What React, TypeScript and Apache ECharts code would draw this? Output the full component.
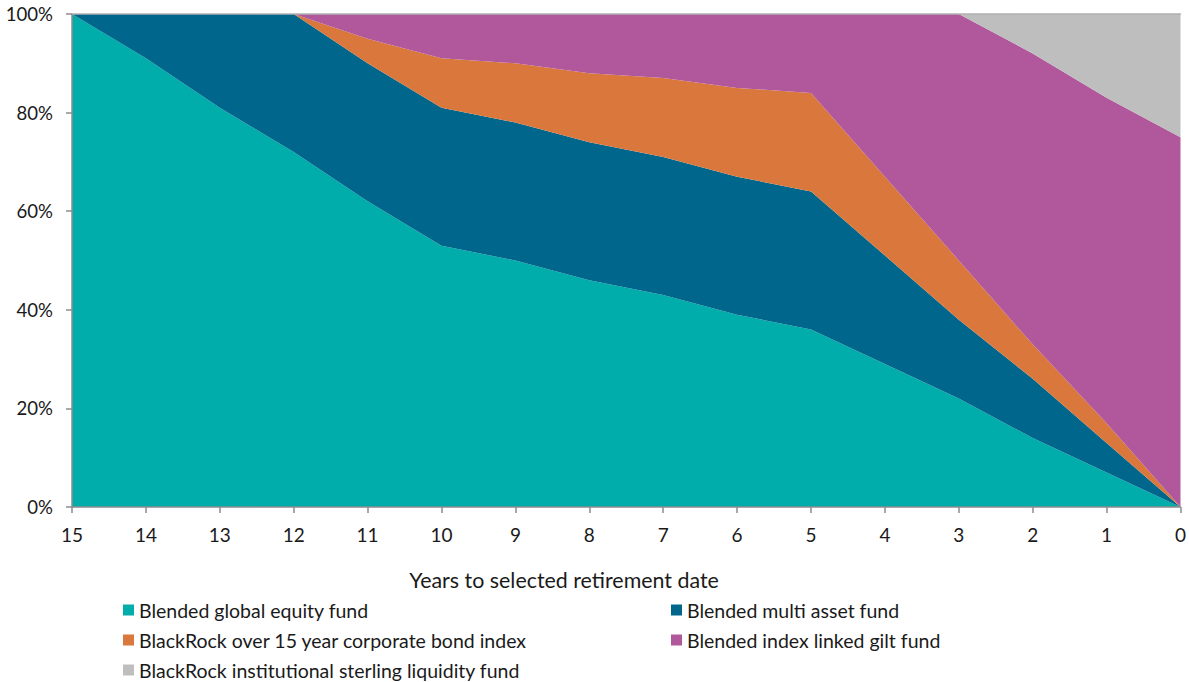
import React, { useEffect, useRef } from "react";
import * as echarts from "echarts";

// Years remaining until the selected retirement date
const years = ["15", "14", "13", "12", "11", "10", "9", "8", "7", "6", "5", "4", "3", "2", "1", "0"];

// Allocation (% of pot) per fund, for each year above
const globalEquity = [100, 91, 81, 72, 62, 53, 50, 46, 43, 39, 36, 29, 22, 14, 7, 0];
const multiAsset = [0, 9, 19, 28, 28, 28, 28, 28, 28, 28, 28, 22, 16, 12, 6, 0];
const corporateBond = [0, 0, 0, 0, 5, 10, 12, 14, 16, 18, 20, 16, 12, 7, 4, 0];
const indexLinkedGilt = [0, 0, 0, 0, 5, 9, 10, 12, 13, 15, 16, 33, 50, 59, 66, 75];
const sterlingLiquidity = [0, 0, 0, 0, 0, 0, 0, 0, 0, 0, 0, 0, 0, 8, 17, 25];

const yTicks = [0, 20, 40, 60, 80, 100];

const axisTitle = "Years to selected retirement date";

const seriesDefs = [
  { name: "Blended global equity fund", data: globalEquity, color: "#00ADAA" },
  { name: "Blended multi asset fund", data: multiAsset, color: "#00668C" },
  { name: "BlackRock over 15 year corporate bond index", data: corporateBond, color: "#D9773D" },
  { name: "Blended index linked gilt fund", data: indexLinkedGilt, color: "#B0589B" },
  { name: "BlackRock institutional sterling liquidity fund", data: sterlingLiquidity, color: "#BEBEBE" },
];

const FONT = "Lato";
const TEXT = "#1a1a1a";
const AXIS = "#8c8c8c";

export default function App() {
  const ref = useRef<HTMLDivElement>(null);

  useEffect(() => {
    document.body.style.margin = "0";
    if (!ref.current) return;
    const chart = echarts.init(ref.current, null, { renderer: "svg" });

    const legendBase = {
      orient: "vertical",
      top: 600,
      padding: 0,
      itemGap: 10,
      itemWidth: 11,
      itemHeight: 11,
      icon: "rect",
      textStyle: { color: TEXT, fontSize: 19.5, lineHeight: 20, fontFamily: FONT },
      selectedMode: false,
    };

    chart.setOption({
      animation: false,
      backgroundColor: "#ffffff",
      textStyle: { fontFamily: FONT },
      grid: { left: 72, right: 6, top: 14, bottom: 175, containLabel: false },
      legend: [
        { ...legendBase, data: [seriesDefs[0].name, seriesDefs[2].name, seriesDefs[4].name], left: 123 },
        { ...legendBase, data: [seriesDefs[1].name, seriesDefs[3].name], left: 671 },
      ],
      graphic: [
        {
          type: "text",
          x: 564,
          y: 580,
          style: {
            text: axisTitle,
            fill: TEXT,
            font: `21.4px ${FONT}`,
            textAlign: "center",
            textVerticalAlign: "middle",
          },
        },
      ],
      xAxis: [
        {
          type: "category",
          data: years,
          boundaryGap: false,
          z: 10,
          axisLine: { show: true, lineStyle: { color: AXIS, width: 1.5 } },
          axisTick: { show: true, length: 6, lineStyle: { color: AXIS, width: 1.5 } },
          axisLabel: { color: TEXT, fontSize: 19, margin: 18, fontFamily: FONT },
          splitLine: { show: false },
        },
        {
          type: "category",
          data: years,
          boundaryGap: false,
          position: "top",
          z: 10,
          axisLine: { show: true, lineStyle: { color: "#b0b0b0", width: 1.5 } },
          axisTick: { show: false },
          axisLabel: { show: false },
          splitLine: { show: false },
        },
      ],
      yAxis: {
        type: "value",
        min: yTicks[0],
        max: yTicks[yTicks.length - 1],
        interval: 20,
        z: 10,
        axisLine: { show: true, lineStyle: { color: AXIS, width: 1.5 } },
        axisTick: { show: true, length: 6, lineStyle: { color: AXIS, width: 1.5 } },
        axisLabel: { color: TEXT, fontSize: 18.6, margin: 19, fontFamily: FONT, formatter: "{value}%" },
        splitLine: { show: false },
      },
      series: seriesDefs.map((s) => ({
        name: s.name,
        type: "line",
        stack: "total",
        data: s.data,
        symbol: "none",
        lineStyle: { width: 0 },
        areaStyle: { color: s.color, opacity: 1 },
        itemStyle: { color: s.color },
        emphasis: { disabled: true },
      })),
    });

    return () => chart.dispose();
  }, []);

  return <div ref={ref} style={{ position: "fixed", left: 0, top: 0, width: 1189, height: 682 }} />;
}
